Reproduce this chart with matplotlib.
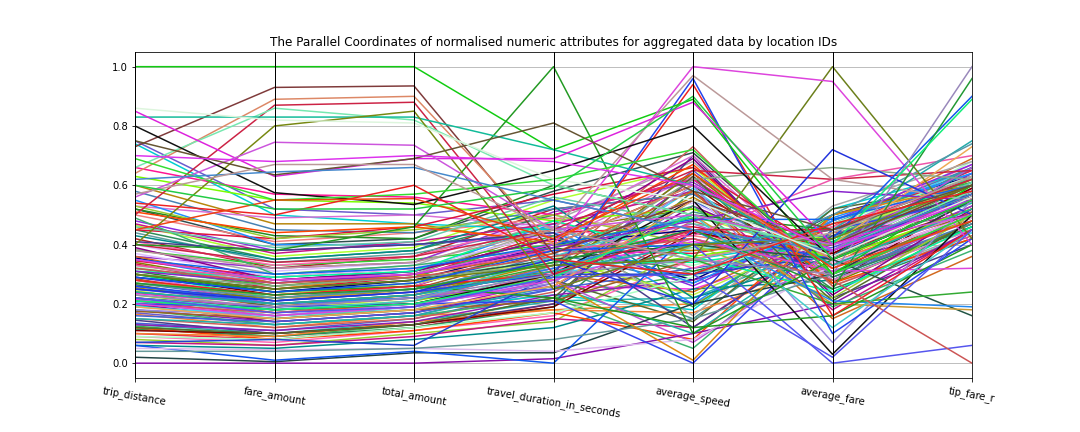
import numpy as np
import pandas as pd
import matplotlib
matplotlib.use('Agg')
from matplotlib import pyplot as plt
from pandas.plotting import parallel_coordinates

# normalised attributes, one entry per location ID
trip_distance = [
    0.10, 0.125, 0.135, 0.165, 0.18, 0.205, 0.215, 0.245, 0.26, 0.285,
    0.30, 0.325, 0.34, 0.355, 0.385, 0.40, 0.09, 0.115, 0.13, 0.15,
    0.17, 0.195, 0.21, 0.23, 0.255, 0.27, 0.29, 0.31, 0.335, 0.35,
    0.08, 0.07, 0.06, 0.12, 0.145, 0.18, 0.20, 0.22, 0.24, 0.265,
    0.28, 0.30, 0.42, 0.44, 0.465, 0.48, 0.52, 0.50, 0.38, 0.36,
    0.345, 0.32, 0.16, 0.10, 0.13, 0.19, 0.235, 0.27, 0.21, 0.175,
    0.11, 0.09, 0.25, 0.29, 0.33, 0.37, 0.41, 0.45, 0.15, 0.20,
    0.75, 0.74, 0.66, 0.63, 0.60, 0.58, 0.53, 0.52, 0.45, 0.55,
    0.53, 0.47, 0.43, 0.51, 0.41, 0.49, 0.39, 0.46, 0.36, 0.12, 0.22, 0.31,
    0.00, 0.02, 0.06, 0.05, 0.07, 0.04, 0.20, 0.30, 0.25, 0.22,
    0.18, 0.30, 0.28, 0.26, 0.24, 0.20, 0.30, 0.22, 0.28, 0.26,
    0.35, 0.40, 0.33, 0.24, 0.27, 0.19, 0.30, 0.31,
    1.00, 0.40, 0.30, 0.35, 0.38, 0.25, 0.29, 0.23, 0.27, 0.21,
    0.32, 0.22, 0.73, 0.64, 0.50, 0.66, 0.83, 0.40, 0.85, 0.56,
    0.80, 0.75, 0.69, 0.62, 0.57, 0.54, 0.45, 0.86, 0.70, 0.60]
fare_amount = [
    0.08, 0.09, 0.11, 0.12, 0.14, 0.15, 0.17, 0.18, 0.20, 0.21,
    0.23, 0.25, 0.26, 0.28, 0.30, 0.31, 0.07, 0.09, 0.10, 0.12,
    0.13, 0.15, 0.16, 0.18, 0.19, 0.21, 0.22, 0.24, 0.25, 0.27,
    0.06, 0.06, 0.05, 0.08, 0.10, 0.13, 0.14, 0.16, 0.17, 0.19,
    0.20, 0.22, 0.32, 0.34, 0.36, 0.38, 0.40, 0.41, 0.33, 0.32,
    0.29, 0.26, 0.14, 0.09, 0.11, 0.16, 0.20, 0.23, 0.18, 0.15,
    0.10, 0.08, 0.22, 0.24, 0.27, 0.29, 0.33, 0.35, 0.13, 0.17,
    0.52, 0.50, 0.57, 0.55, 0.47, 0.45, 0.49, 0.43, 0.42, 0.40,
    0.42, 0.37, 0.35, 0.44, 0.38, 0.30, 0.28, 0.39, 0.27, 0.10, 0.19, 0.29,
    0.00, 0.005, 0.01, 0.045, 0.08, 0.04, 0.19, 0.25, 0.20, 0.18,
    0.16, 0.25, 0.22, 0.20, 0.20, 0.16, 0.24, 0.18, 0.23, 0.21,
    0.30, 0.34, 0.28, 0.20, 0.22, 0.15, 0.26, 0.27,
    1.00, 0.38, 0.25, 0.28, 0.32, 0.21, 0.24, 0.19, 0.23, 0.18,
    0.27, 0.17, 0.93, 0.89, 0.87, 0.86, 0.83, 0.80, 0.63, 0.745,
    0.575, 0.635, 0.55, 0.645, 0.67, 0.50, 0.55, 0.82, 0.68, 0.52]
total_amount = [
    0.12, 0.13, 0.15, 0.16, 0.17, 0.19, 0.20, 0.22, 0.23, 0.25,
    0.26, 0.28, 0.30, 0.31, 0.33, 0.34, 0.11, 0.12, 0.14, 0.15,
    0.16, 0.18, 0.19, 0.21, 0.23, 0.24, 0.26, 0.27, 0.29, 0.31,
    0.10, 0.09, 0.08, 0.11, 0.13, 0.16, 0.17, 0.18, 0.20, 0.22,
    0.23, 0.25, 0.36, 0.37, 0.39, 0.40, 0.42, 0.44, 0.35, 0.34,
    0.32, 0.29, 0.17, 0.14, 0.14, 0.19, 0.22, 0.27, 0.20, 0.18,
    0.13, 0.12, 0.25, 0.28, 0.30, 0.32, 0.36, 0.38, 0.16, 0.21,
    0.50, 0.47, 0.56, 0.54, 0.47, 0.44, 0.50, 0.42, 0.46, 0.40,
    0.45, 0.41, 0.38, 0.46, 0.40, 0.33, 0.31, 0.41, 0.30, 0.13, 0.22, 0.31,
    0.00, 0.035, 0.04, 0.05, 0.06, 0.05, 0.20, 0.30, 0.22, 0.20,
    0.20, 0.28, 0.24, 0.22, 0.23, 0.19, 0.26, 0.21, 0.26, 0.24,
    0.32, 0.36, 0.30, 0.23, 0.25, 0.18, 0.29, 0.30,
    1.00, 0.46, 0.28, 0.30, 0.34, 0.24, 0.27, 0.22, 0.25, 0.20,
    0.29, 0.19, 0.935, 0.90, 0.88, 0.82, 0.83, 0.85, 0.69, 0.735,
    0.535, 0.69, 0.57, 0.66, 0.67, 0.60, 0.555, 0.81, 0.70, 0.52]
travel_duration_in_seconds = [
    0.20, 0.22, 0.25, 0.18, 0.28, 0.30, 0.26, 0.35, 0.32, 0.38,
    0.40, 0.36, 0.45, 0.42, 0.48, 0.50, 0.16, 0.19, 0.21, 0.24,
    0.27, 0.23, 0.31, 0.29, 0.34, 0.37, 0.41, 0.39, 0.44, 0.47,
    0.14, 0.15, 0.12, 0.17, 0.20, 0.22, 0.26, 0.33, 0.30, 0.28,
    0.36, 0.34, 0.52, 0.46, 0.55, 0.43, 0.58, 0.49, 0.40, 0.51,
    0.38, 0.43, 0.25, 0.18, 0.23, 0.28, 0.32, 0.35, 0.29, 0.21,
    0.19, 0.17, 0.31, 0.40, 0.46, 0.44, 0.48, 0.50, 0.26, 0.33,
    0.55, 0.45, 0.50, 0.48, 0.40, 0.52, 0.46, 0.60, 0.57, 0.44,
    0.50, 0.47, 0.53, 0.41, 0.44, 0.39, 0.42, 0.56, 0.37, 0.22, 0.28, 0.48,
    0.015, 0.035, 0.00, 0.04, 0.30, 0.08, 0.21, 0.28, 0.25, 0.30,
    0.27, 0.35, 0.30, 0.32, 0.33, 0.28, 0.22, 0.36, 0.30, 0.30,
    0.40, 0.45, 0.38, 0.31, 0.35, 0.26, 0.33, 0.39,
    0.72, 1.00, 0.33, 0.40, 0.45, 0.35, 0.38, 0.30, 0.34, 0.29,
    0.36, 0.29, 0.37, 0.40, 0.30, 0.60, 0.72, 0.25, 0.69, 0.45,
    0.65, 0.81, 0.62, 0.55, 0.45, 0.35, 0.42, 0.62, 0.68, 0.59]
average_speed = [
    0.45, 0.30, 0.55, 0.20, 0.62, 0.38, 0.25, 0.50, 0.15, 0.42,
    0.60, 0.33, 0.52, 0.28, 0.68, 0.40, 0.35, 0.58, 0.22, 0.48,
    0.65, 0.18, 0.44, 0.36, 0.56, 0.27, 0.63, 0.31, 0.46, 0.20,
    0.40, 0.12, 0.25, 0.08, 0.70, 0.05, 0.53, 0.39, 0.24, 0.14,
    0.47, 0.34, 0.57, 0.30, 0.66, 0.26, 0.71, 0.43, 0.49, 0.61,
    0.37, 0.19, 0.32, 0.17, 0.28, 0.59, 0.41, 0.23, 0.51, 0.35,
    0.44, 0.29, 0.64, 0.45, 0.16, 0.54, 0.32, 0.62, 0.10, 0.73,
    0.45, 0.35, 0.62, 0.52, 0.38, 0.57, 0.70, 0.50, 0.66, 0.27,
    0.40, 0.58, 0.22, 0.67, 0.12, 0.53, 0.69, 0.47, 0.58, 0.63, 0.07, 0.36,
    0.10, 0.20, 0.45, 0.08, 0.30, 0.15, 0.00, 0.01, 0.40, 0.55,
    0.60, 0.40, 0.50, 0.45, 0.35, 0.42, 0.12, 0.50, 0.94, 0.96,
    0.485, 0.65, 0.43, 0.40, 0.30, 0.55, 0.62, 0.48,
    0.89, 0.10, 0.35, 1.00, 0.97, 0.20, 0.40, 0.35, 0.45, 0.50,
    0.42, 0.30, 0.55, 0.60, 0.45, 0.50, 0.60, 0.40, 0.88, 0.50,
    0.80, 0.58, 0.72, 0.45, 0.35, 0.30, 0.64, 0.55, 0.60, 0.90]
average_fare = [
    0.30, 0.38, 0.28, 0.42, 0.33, 0.45, 0.40, 0.35, 0.48, 0.31,
    0.27, 0.44, 0.36, 0.50, 0.26, 0.39, 0.46, 0.25, 0.41, 0.32,
    0.29, 0.52, 0.37, 0.43, 0.30, 0.47, 0.34, 0.42, 0.38, 0.49,
    0.35, 0.44, 0.28, 0.50, 0.22, 0.45, 0.33, 0.36, 0.46, 0.52,
    0.31, 0.40, 0.37, 0.43, 0.28, 0.48, 0.30, 0.36, 0.41, 0.33,
    0.45, 0.50, 0.39, 0.34, 0.40, 0.24, 0.35, 0.44, 0.42, 0.30,
    0.37, 0.47, 0.27, 0.38, 0.53, 0.34, 0.46, 0.29, 0.41, 0.26,
    0.38, 0.42, 0.33, 0.35, 0.40, 0.30, 0.28, 0.45, 0.36, 0.48,
    0.22, 0.18, 0.36, 0.27, 0.43, 0.19, 0.23, 0.40, 0.15, 0.21, 0.38, 0.24,
    0.20, 0.30, 0.35, 0.33, 0.36, 0.30, 0.45, 0.50, 0.00, 0.03,
    0.07, 0.35, 0.20, 0.21, 0.20, 0.31, 0.16, 0.12, 0.16, 0.10,
    0.485, 0.62, 0.62, 0.45, 0.50, 0.40, 0.66, 0.58,
    0.30, 0.35, 1.00, 0.95, 0.62, 0.72, 0.42, 0.30, 0.25, 0.40,
    0.28, 0.02, 0.40, 0.35, 0.45, 0.38, 0.33, 0.42, 0.40, 0.40,
    0.35, 0.45, 0.30, 0.38, 0.44, 0.47, 0.32, 0.36, 0.38, 0.35]
tip_fare_r = [
    0.55, 0.60, 0.50, 0.62, 0.48, 0.66, 0.58, 0.52, 0.64, 0.45,
    0.56, 0.68, 0.50, 0.63, 0.44, 0.59, 0.67, 0.42, 0.61, 0.53,
    0.47, 0.65, 0.57, 0.62, 0.49, 0.66, 0.51, 0.60, 0.55, 0.64,
    0.58, 0.50, 0.46, 0.62, 0.40, 0.56, 0.59, 0.54, 0.69, 0.60,
    0.48, 0.63, 0.52, 0.61, 0.45, 0.67, 0.50, 0.57, 0.58, 0.53,
    0.65, 0.61, 0.56, 0.52, 0.64, 0.44, 0.55, 0.60, 0.66, 0.51,
    0.59, 0.63, 0.47, 0.57, 0.68, 0.49, 0.62, 0.46, 0.54, 0.43,
    0.55, 0.60, 0.50, 0.52, 0.60, 0.47, 0.45, 0.62, 0.56, 0.64,
    0.50, 0.45, 0.66, 0.42, 0.57, 0.38, 0.52, 0.61, 0.36, 0.48, 0.66, 0.46,
    0.45, 0.55, 0.55, 0.50, 0.58, 0.50, 0.55, 0.60, 0.06, 0.50,
    0.55, 0.16, 0.18, 0.19, 0.24, 0.32, 0.40, 0.45, 0.45, 0.42,
    0.60, 0.65, 0.70, 0.75, 0.74, 0.73, 0.62, 0.55,
    0.60, 0.55, 0.42, 0.40, 0.55, 0.50, 0.90, 1.00, 0.96, 0.89,
    0.00, 0.45, 0.60, 0.55, 0.62, 0.58, 0.52, 0.60, 0.55, 0.50,
    0.55, 0.60, 0.50, 0.57, 0.63, 0.58, 0.48, 0.56, 0.55, 0.55]

# colours: a cycled palette for the bulk, hand-picked ones for the stand-out lines
palette = ['#e6194b', '#3cb44b', '#4363d8', '#f58231', '#911eb4', '#42d4f4', '#f032e6',
           '#bfef45', '#469990', '#9a6324', '#800000', '#aaffc3', '#808000', '#000075',
           '#a9a9a9', '#dcbeff', '#ff69b4', '#2e8b57', '#20b2aa', '#cd5c5c', '#6a5acd',
           '#00ced1', '#ff1493', '#7cfc00', '#b8860b', '#4682b4', '#da70d6', '#228b22',
           '#dc143c', '#1e90ff', '#9acd32', '#c71585', '#008b8b', '#ff4500', '#483d8b',
           '#3cb371', '#8b008b', '#66cdaa', '#d2691e', '#556b2f', '#ba55d3', '#00fa9a',
           '#b22222', '#5f9ea0', '#adff2f', '#8a2be2', '#2f4f4f', '#f08080', '#32cd32',
           '#9932cc']
odd_colors = ['#8811aa', '#224444', '#1155ee', '#ddbbee', '#2244cc', '#669999', '#3344ee',
              '#dd8811', '#5555ee', '#111111', '#9988dd', '#225544', '#cc9933', '#2288ee',
              '#33aa33', '#dd44dd', '#229922', '#44cccc', '#ee2222', '#2244ee', '#1166ee',
              '#cc2244', '#ee55aa', '#22aaaa', '#5599aa', '#eeaa55', '#88aa88', '#8822cc']
top_colors = ['#11cc11', '#229922', '#6b7f1a', '#dd44dd', '#bb9999', '#2233dd', '#1155ee',
              '#9988bb', '#229933', '#11ee77', '#cc5555', '#5555ee', '#7f3a3a', '#dd8866',
              '#cc2244', '#77e8b0', '#11bb99', '#778811', '#dd22dd', '#cc55dd', '#111111',
              '#665533', '#33dd33', '#4488cc', '#bb9999', '#ee2222', '#ee4411', '#ddf5dd',
              '#dd33ee', '#22cc44']

n_rows = len(trip_distance)
n_bulk = n_rows - len(odd_colors) - len(top_colors)
colors = [palette[i % len(palette)] for i in range(n_bulk)] + odd_colors + top_colors

df = pd.DataFrame({
    'trip_distance': trip_distance,
    'fare_amount': fare_amount,
    'total_amount': total_amount,
    'travel_duration_in_seconds': travel_duration_in_seconds,
    'average_speed': average_speed,
    'average_fare': average_fare,
    'tip_fare_r': tip_fare_r,
})
df['location_id'] = [str(i + 1) for i in range(n_rows)]

fig = plt.figure(figsize=(15, 6), dpi=72)
fig.subplots_adjust(bottom=0.125)
ax = fig.add_subplot(111)
parallel_coordinates(df, 'location_id', color=colors, ax=ax)
ax.get_legend().remove()
plt.xticks(rotation=-10)
plt.title('The Parallel Coordinates of normalised numeric attributes for aggregated data by location IDs')
plt.savefig('out.png', dpi=72)
plt.close()
